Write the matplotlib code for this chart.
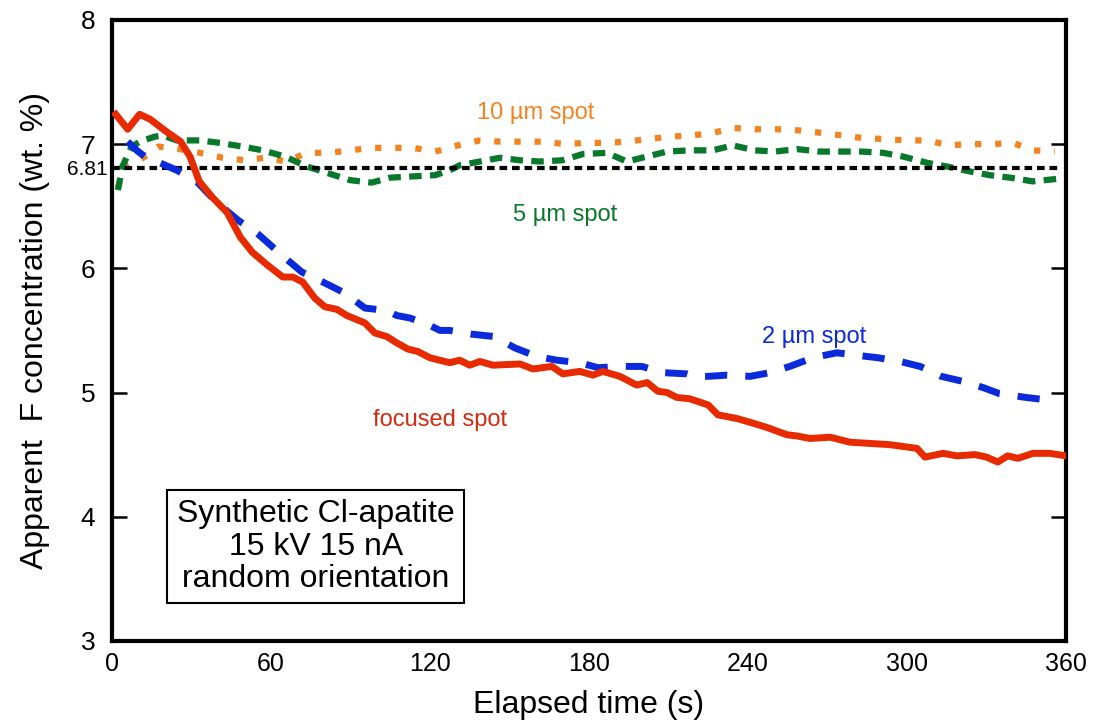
import numpy as np
import matplotlib
matplotlib.use("Agg")
import matplotlib.pyplot as plt

plt.rcParams['font.family'] = ['Liberation Sans', 'DejaVu Sans']
plt.rcParams['lines.scale_dashes'] = False

# focused spot (red, solid)
t_focus = [1.5, 6, 10.5, 14.5, 20, 26, 29.5, 33, 38, 43.5, 48.5, 53, 58.5, 64.5, 68.3, 72,
           76.6, 80.4, 84.9, 88.7, 95.5, 99.2, 103.8, 107.5, 111.7, 115.5, 120, 127.5, 131.3,
           135, 138.9, 143.8, 154, 158.9, 166, 170.2, 176.6, 181.5, 185.3, 191.7, 198, 202,
           206, 209.5, 213.2, 218, 225, 228.7, 236, 240.8, 247, 254.7, 258.5, 263.4, 271,
           278.5, 286, 293.6, 303.8, 306.8, 313.6, 318.9, 325.7, 330, 334.3, 338, 341.9,
           347.5, 354, 360]
v_focus = [7.24, 7.12, 7.24, 7.20, 7.11, 7.02, 6.90, 6.70, 6.57, 6.45, 6.25, 6.13, 6.03, 5.93,
           5.93, 5.89, 5.76, 5.69, 5.67, 5.62, 5.56, 5.48, 5.45, 5.40, 5.35, 5.33, 5.28, 5.24,
           5.26, 5.22, 5.25, 5.22, 5.23, 5.19, 5.21, 5.15, 5.17, 5.14, 5.17, 5.13, 5.06, 5.08,
           5.01, 5.00, 4.96, 4.95, 4.90, 4.82, 4.79, 4.76, 4.72, 4.66, 4.65, 4.63, 4.64, 4.60,
           4.59, 4.58, 4.55, 4.48, 4.51, 4.49, 4.50, 4.48, 4.44, 4.49, 4.47, 4.51, 4.51, 4.49]

# 2 um spot (blue, long dashes)
t_2um = [6, 9.4, 14.3, 17, 24.5, 32, 39.6, 47.5, 55.5, 63.4, 71.7, 79.6, 88, 95.5, 103.8,
         107.5, 112.5, 120, 123.8, 127.5, 135.8, 144.5, 152, 160.4, 168, 176.6, 183.4, 192.5,
         200, 208, 217, 220, 225, 232, 240.8, 248.3, 255.8, 264.5, 273.6, 281, 289, 297.4,
         305, 313, 321, 328.7, 335, 345, 353]
v_2um = [7.02, 6.95, 6.87, 6.86, 6.79, 6.70, 6.53, 6.39, 6.27, 6.12, 5.97, 5.89, 5.80, 5.68,
         5.66, 5.62, 5.60, 5.54, 5.50, 5.50, 5.47, 5.45, 5.36, 5.29, 5.26, 5.24, 5.20, 5.21,
         5.21, 5.16, 5.15, 5.13, 5.13, 5.14, 5.13, 5.16, 5.21, 5.28, 5.32, 5.30, 5.28, 5.25,
         5.21, 5.13, 5.09, 5.04, 4.99, 4.96, 4.94]

# 5 um spot (green, dashes)
t_5um = [2.3, 4, 7.5, 10.6, 16.2, 19.2, 24.5, 33.2, 40.8, 49.4, 57, 65.3, 73.6, 81, 89.8, 98,
         105, 113.6, 122, 127.5, 131.3, 138.9, 146.4, 154, 161.5, 170, 177.7, 186.8, 194.3,
         201.9, 209.4, 218, 226.8, 234.3, 242.6, 250.2, 258.5, 267, 275.5, 283, 291, 298.5,
         307.5, 315, 323.8, 331.3, 338.9, 347.5, 356.6]
v_5um = [6.63, 6.82, 6.98, 7.02, 7.06, 7.07, 7.03, 7.03, 7.01, 6.98, 6.95, 6.90, 6.82, 6.77,
         6.71, 6.69, 6.73, 6.74, 6.75, 6.79, 6.83, 6.86, 6.89, 6.87, 6.86, 6.87, 6.92, 6.93,
         6.86, 6.90, 6.94, 6.95, 6.95, 6.99, 6.95, 6.94, 6.96, 6.94, 6.94, 6.94, 6.93, 6.90,
         6.85, 6.82, 6.78, 6.75, 6.73, 6.70, 6.72]

# 10 um spot (orange, dots)
t_10um = [2.3, 5, 10.6, 17.4, 25.7, 33.2, 41.9, 50.2, 57.7, 66, 73.6, 82, 89.8, 98, 106,
          113.6, 122, 130.6, 138.9, 146.4, 154, 162.6, 171, 178.5, 186.8, 194.3, 201.9, 210.6,
          218.9, 226.8, 234.3, 242.6, 251, 259.6, 268, 275.5, 283, 291.7, 300, 308, 315.5,
          323.8, 332, 340, 347.5, 355.8]
v_10um = [6.65, 6.82, 6.87, 6.98, 6.96, 6.93, 6.89, 6.87, 6.89, 6.86, 6.93, 6.93, 6.95, 6.97,
          6.97, 6.97, 6.94, 6.99, 7.03, 7.02, 7.02, 7.02, 7.00, 7.01, 7.01, 7.02, 7.04, 7.06,
          7.07, 7.09, 7.13, 7.12, 7.12, 7.11, 7.09, 7.07, 7.05, 7.04, 7.03, 7.03, 6.99, 7.00,
          7.00, 7.01, 6.95, 6.94]

ref_value = 6.81
ref_t = [0, 357]

fig = plt.figure(figsize=(10.96, 7.25), dpi=100)
ax = fig.add_axes([0.102, 0.116, 0.8706, 0.8565])

ax.plot(t_10um, v_10um, color='#F5821F', lw=4.5, dashes=(4.5, 10), zorder=2)
ax.plot(t_5um, v_5um, color='#08782A', lw=4.5, dashes=(9, 6), zorder=3)
ax.plot(ref_t, [ref_value, ref_value], color='black', lw=3, dashes=(5.5, 3.5), zorder=4)
ax.plot(t_2um, v_2um, color='#0A2ADC', lw=5, dashes=(16, 13), zorder=5)
ax.plot(t_focus, v_focus, color='#E82A00', lw=5, solid_joinstyle='round', zorder=6)

ax.set_xlim(0, 360)
ax.set_ylim(3, 8)
ax.set_xticks([0, 60, 120, 180, 240, 300, 360])
ax.set_yticks([3, 4, 5, 6, 7, 8])
ax.tick_params(axis='x', length=0, pad=8, labelsize=18)
ax.tick_params(axis='y', direction='in', length=11, width=1.8, pad=12, labelsize=19,
               right=True, left=True)
for s in ax.spines.values():
    s.set_linewidth(3)

# the 6.81 mark sits just under the "7" tick label
ax.text(-0.004, ref_value - 0.015, '6.81', transform=ax.get_yaxis_transform(), ha='right',
        va='center', fontsize=15)

ax.set_xlabel('Elapsed time (s)', fontsize=23, labelpad=10)
ax.set_ylabel('Apparent  F concentration (wt. %)', fontsize=23, labelpad=22)

ax.text(160, 7.25, '10 µm spot', color='#F5821F', fontsize=17, ha='center', va='center')
ax.text(171, 6.43, '5 µm spot', color='#08782A', fontsize=17, ha='center', va='center')
ax.text(265, 5.45, '2 µm spot', color='#0A2ADC', fontsize=17, ha='center', va='center')
ax.text(124, 4.78, 'focused spot', color='#D42A10', fontsize=17, ha='center', va='center')

ax.text(77, 3.76, 'Synthetic Cl-apatite\n15 kV 15 nA\nrandom orientation', fontsize=23,
        ha='center', va='center', linespacing=1.1,
        bbox=dict(boxstyle='square,pad=0.3', fc='white', ec='black', lw=1.5))

fig.savefig('out.png', dpi=100)
